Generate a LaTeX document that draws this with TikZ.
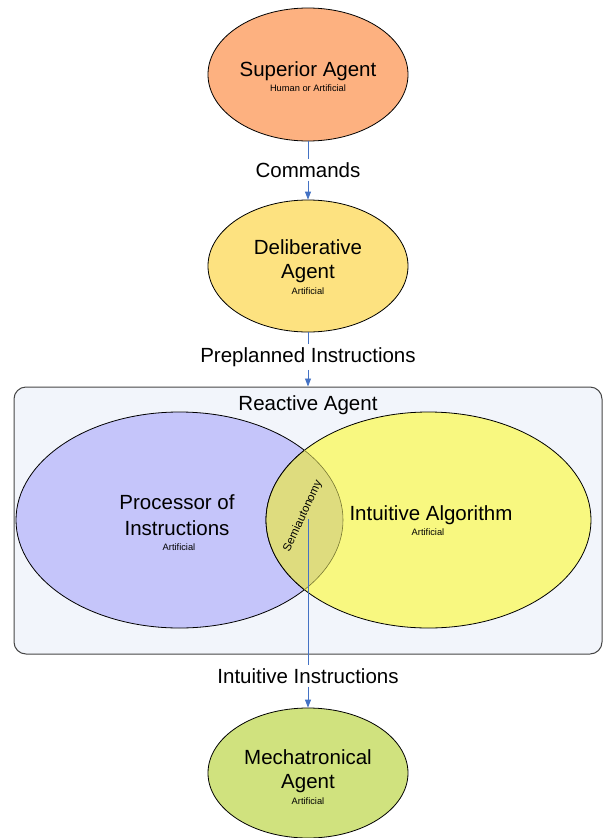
\documentclass[tikz,border=0pt]{standalone}
\usepackage{fontspec}
\setmainfont{Liberation Sans}
\usetikzlibrary{shapes.geometric,arrows.meta}
\definecolor{supc}{RGB}{253,177,128}
\definecolor{delc}{RGB}{253,226,128}
\definecolor{mecc}{RGB}{208,226,126}
\definecolor{procc}{RGB}{197,197,250}
\definecolor{intc}{RGB}{248,248,128}
\definecolor{lensc}{RGB}{222,220,126}
\definecolor{boxc}{RGB}{242,245,251}
\definecolor{boxb}{RGB}{70,70,70}
\definecolor{linkc}{RGB}{68,114,196}
\definecolor{lensb}{RGB}{120,120,50}
\begin{document}
\begin{tikzpicture}[x=1pt,y=-1pt,
 agent/.style={ellipse, draw=black, line width=0.8pt, inner sep=0pt},
 big/.style={font=\fontsize{20.5}{24}\selectfont, inner sep=0pt},
 small/.style={font=\fontsize{9.3}{11}\selectfont, inner sep=0pt},
 lbl/.style={font=\fontsize{20.5}{24}\selectfont, inner sep=3pt},
 link/.style={draw=linkc, line width=0.8pt},
 arr/.style={link, -{Triangle[length=8pt,width=6pt]}},
]
\useasboundingbox (0,0) rectangle (604,838);

% Superior agent
\node[agent, fill=supc, minimum width=200pt, minimum height=133pt] (sup) at (308,74.5) {};
\node[big] (supt) at (308,71) {Superior Agent};
\node[small] (sups) at (308,88) {Human or Artificial};

\node[lbl] (cmd) at (308,170) {Commands};

% Deliberative agent
\node[agent, fill=delc, minimum width=200pt, minimum height=132pt] (del) at (308,266) {};
\node[big] (delt1) at (308,247) {Deliberative};
\node[big] (delt2) at (308,274) {Agent};
\node[small] (dels) at (308,291) {Artificial};

\node[lbl] (pre) at (308,357) {Preplanned Instructions};

% Reactive agent box
\node[draw=boxb, fill=boxc, line width=1pt, rounded corners=12pt, minimum width=588pt, minimum height=267pt, inner sep=0pt] (box) at (308,520.5) {};
\node[big] (boxt) at (308,405) {Reactive Agent};

% Processor and Intuitive ellipses
\node[agent, fill=procc, minimum width=327pt, minimum height=216pt] (proc) at (179.5,520) {};
\node[agent, fill=intc, minimum width=325pt, minimum height=216pt] (intu) at (428.5,520) {};
\begin{scope}
\clip (179.5,520) ellipse [x radius=163.5pt, y radius=108pt];
\fill[lensc] (428.5,520) ellipse [x radius=162.5pt, y radius=108pt];
\draw[black, line width=0.8pt] (428.5,520) ellipse [x radius=162.5pt, y radius=108pt];
\end{scope}
\begin{scope}
\clip (428.5,520) ellipse [x radius=162.5pt, y radius=108pt];
\draw[lensb, line width=0.6pt] (179.5,520) ellipse [x radius=163.5pt, y radius=108pt];
\end{scope}

\node[big] (proct1) at (177,502) {Processor of};
\node[big] (proct2) at (177,528) {Instructions};
\node[small] (procs) at (179,547) {Artificial};

\node[big] (intt) at (431,515) {Intuitive Algorithm};
\node[small] (ints) at (428,532) {Artificial};

\node[font=\fontsize{11.5}{13}\selectfont, inner sep=0pt, rotate=65] (semi) at (303,516) {Semiautonomy};

\node[lbl] (ii) at (308,676) {Intuitive Instructions};

% Mechatronical agent
\node[agent, fill=mecc, minimum width=200pt, minimum height=130pt] (mec) at (308,773) {};
\node[big] (mect1) at (308,757) {Mechatronical};
\node[big] (mect2) at (308,784) {Agent};
\node[small] (mecs) at (308,801) {Artificial};

% Connectors
\coordinate (sstart) at (308,519);
\draw[link] (sup) -- (cmd);
\draw[arr] (cmd) -- (del);
\draw[link] (del) -- (pre);
\draw[arr] (pre) -- (box);
\draw[link] (sstart) -- (ii);
\draw[arr] (ii) -- (mec);
\end{tikzpicture}
\end{document}
